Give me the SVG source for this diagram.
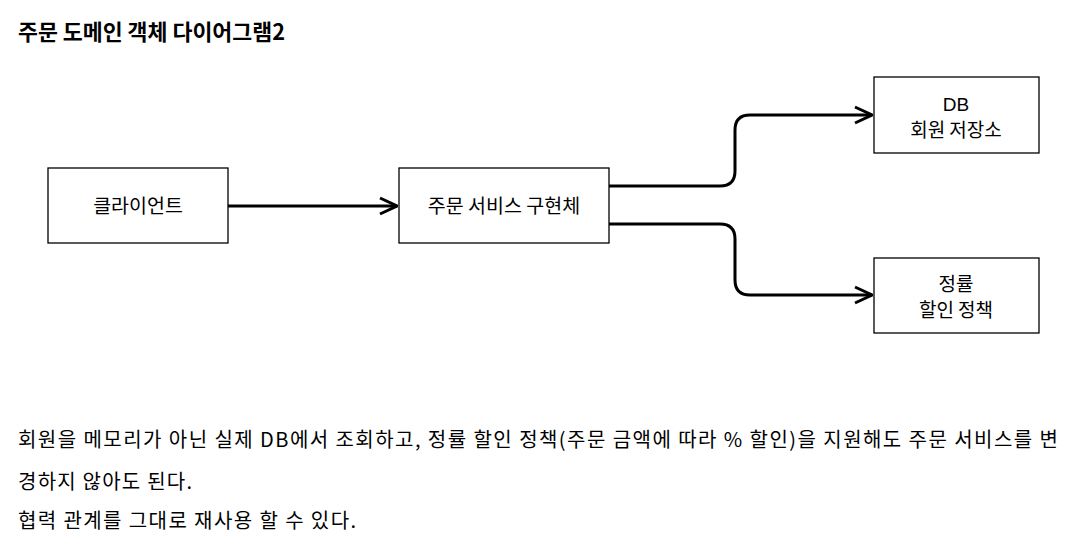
<svg xmlns="http://www.w3.org/2000/svg" width="1092" height="555" viewBox="0 0 1092 555">
<style>
.t{font-family:"Noto Sans CJK KR","Noto Sans",sans-serif;fill:#000}
.n{fill:#fff;stroke:#000;stroke-width:1.3}
.c{fill:none;stroke:#000;stroke-width:3;stroke-linejoin:round}
.lbl{font-size:19.5px;text-anchor:middle}
.lbl2{font-size:19px;text-anchor:middle}
.body{font-size:20px}
</style>
<defs>
<marker id="ar" viewBox="0 0 20 20" refX="19" refY="10" markerWidth="20" markerHeight="20" markerUnits="userSpaceOnUse" orient="auto">
<path d="M2,2 L19,10 L2,18" fill="none" stroke="#000" stroke-width="3"/>
</marker>
</defs>
<rect width="1092" height="555" fill="#fff"/>
<text class="t" x="18" y="40" font-size="22" font-weight="bold" textLength="267" lengthAdjust="spacingAndGlyphs">주문 도메인 객체 다이어그램2</text>
<g id="connectors">
<path class="c" d="M228,206 L397,206" marker-end="url(#ar)"/>
<path class="c" d="M609,186 L720,186 Q735,186 735,171 L735,130 Q735,115 750,115 L872,115" marker-end="url(#ar)"/>
<path class="c" d="M609,224 L720,224 Q735,224 735,239 L735,280 Q735,295 750,295 L872,295" marker-end="url(#ar)"/>
</g>
<g id="client">
<rect class="n" x="48" y="168" width="180" height="75"/>
<text class="t lbl" x="138" y="213">클라이언트</text>
</g>
<g id="service">
<rect class="n" x="399" y="168" width="210" height="75"/>
<text class="t lbl" x="504" y="213">주문 서비스 구현체</text>
</g>
<g id="db">
<rect class="n" x="874" y="77" width="165" height="76"/>
<text class="lbl2" x="956" y="111" font-family="'Liberation Sans',sans-serif">DB</text>
<text class="t lbl2" x="956" y="137">회원 저장소</text>
</g>
<g id="discount">
<rect class="n" x="874" y="258" width="165" height="75"/>
<text class="t lbl2" x="956" y="291">정률</text>
<text class="t lbl2" x="956" y="317">할인 정책</text>
</g>
<text class="t body" x="18" y="447" textLength="1040" lengthAdjust="spacing">회원을 메모리가 아닌 실제 DB에서 조회하고, 정률 할인 정책(주문 금액에 따라 % 할인)을 지원해도 주문 서비스를 변</text>
<text class="t body" x="18" y="489" textLength="174" lengthAdjust="spacing">경하지 않아도 된다.</text>
<text class="t body" x="18" y="528" textLength="338" lengthAdjust="spacing">협력 관계를 그대로 재사용 할 수 있다.</text>
</svg>
